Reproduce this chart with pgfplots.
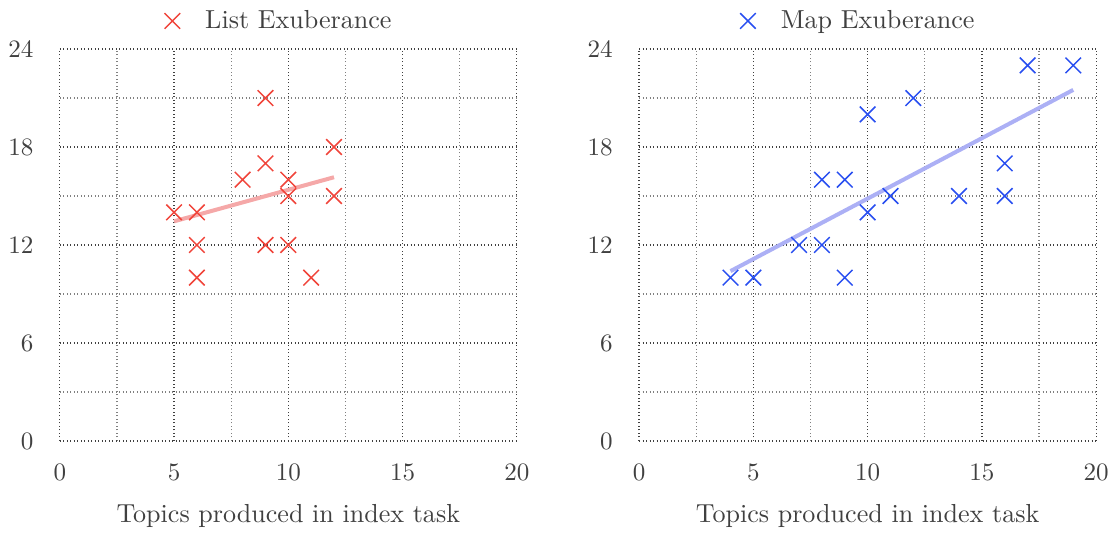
\documentclass[border=0pt]{standalone}
\usepackage{pgfplots}
\pgfplotsset{compat=1.18}
\definecolor{cred}{RGB}{240,68,58}
\definecolor{cblue}{RGB}{40,78,240}
\definecolor{lred}{RGB}{245,168,168}
\definecolor{lblue}{RGB}{172,176,245}
\definecolor{txt}{RGB}{64,64,64}
\pgfplotsset{
  myax/.style={
    width=182.4pt, height=156.4pt, scale only axis,
    xmin=0, xmax=20, ymin=0, ymax=24,
    xtick={0,5,10,15,20}, ytick={0,6,12,18,24},
    minor xtick={2.5,7.5,12.5,17.5}, minor ytick={3,9,15,21},
    grid=both,
    major grid style={black!75, densely dotted, line width=0.5pt},
    minor grid style={black!50, densely dotted, line width=0.5pt},
    axis line style={draw=none},
    major tick length=0pt, minor tick length=0pt,
    tick label style={font=\fontsize{10}{12}\selectfont, text=txt},
    xticklabel style={yshift=-6pt},
    yticklabel style={xshift=-7pt},
    xlabel style={font=\fontsize{10.4}{12.5}\selectfont, text=txt, yshift=-2.5pt},
    xlabel={Topics produced in index task},
    legend style={draw=none, fill=none, at={(0.483,1.017)}, anchor=south, font=\fontsize{10.4}{12.5}\selectfont, text=txt,
      column sep=8pt},
    legend cell align=left,
  },
  mk/.style={only marks, mark=x, mark size=4.4pt, mark options={line width=0.6pt}},
}
\begin{document}
\begin{tikzpicture}
\begin{axis}[myax, name=a1]
\addplot[mk, color=cred] coordinates {
(5,14)(6,14)(6,12)(6,10)(8,16)(9,21)(9,17)(9,12)(10,16)(10,15)(10,12)(11,10)(12,18)(12,15)};
\addlegendentry{List Exuberance}
\addplot[lred, line width=1.6pt, no marks, forget plot] coordinates {(5,13.45)(12,16.15)};
\end{axis}
\begin{axis}[myax, xshift=231.2pt]
\addplot[mk, color=cblue] coordinates {
(4,10)(5,10)(7,12)(8,12)(8,16)(9,16)(9,10)(10,20)(10,14)(11,15)(12,21)(14,15)(16,17)(16,15)(17,23)(19,23)};
\addlegendentry{Map Exuberance}
\addplot[lblue, line width=1.6pt, no marks, forget plot] coordinates {(4,10.4)(19,21.5)};
\end{axis}
\end{tikzpicture}
\end{document}
